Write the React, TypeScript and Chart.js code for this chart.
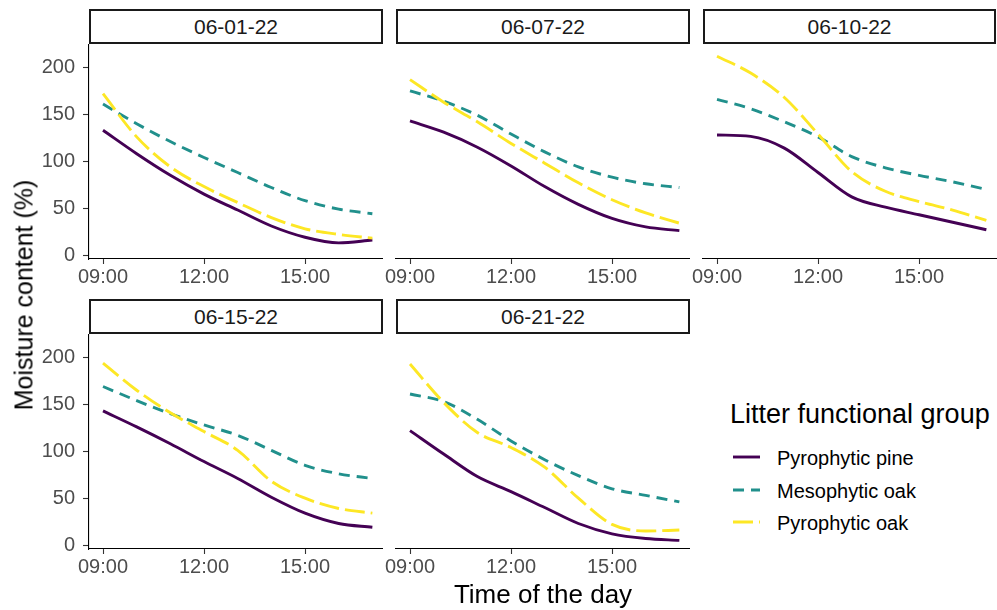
import React, { useEffect, useRef } from 'react';
import { Chart, registerables } from 'chart.js';

Chart.register(...registerables);

const FONT = "'Liberation Sans', Arial, Helvetica, sans-serif";

// ---------- data ----------
const facetLabels = ['06-01-22', '06-07-22', '06-10-22', '06-15-22', '06-21-22'];
const hours = [9, 10, 11, 12, 13, 14, 15, 16, 17];
const xTickValues = [9, 12, 15];
const xTickLabels = ['09:00', '12:00', '15:00'];
const yTickValues = [0, 50, 100, 150, 200];
const yTickLabels = ['0', '50', '100', '150', '200'];
const seriesNames = ['Pyrophytic pine', 'Mesophytic oak', 'Pyrophytic oak'];
const seriesColors = ['#440154', '#21908C', '#FDE725'];
const seriesDash: number[][] = [[], [11, 7], [20, 6]];

// one row per facet (same order as facetLabels)
const pyrophyticPine = [
  [133, 108, 85, 65, 48, 31, 19, 13, 16],
  [143, 131, 115, 95, 73, 54, 39, 30, 26],
  [128, 126.5, 114, 88, 62, 51, 43, 35, 27],
  [143, 126, 108, 89, 71, 51, 34, 23, 19],
  [122, 97, 73, 57, 40, 23, 12, 7, 5],
];
const mesophyticOak = [
  [161, 140, 121, 104, 88, 72, 58, 49, 44],
  [175, 164, 149, 129, 110, 94, 83, 76, 72],
  [166, 156, 142, 126, 105, 93, 85, 78, 70],
  [169, 154, 140, 128, 117, 101, 85, 76, 71],
  [161, 153, 134, 111, 91, 74, 60, 53, 46],
];
const pyrophyticOak = [
  [172, 126, 94, 73, 56, 40, 28, 22, 18],
  [187, 163, 142, 119, 98, 77, 59, 45, 34],
  [212, 194, 168, 129, 89, 68, 57, 48, 37],
  [194, 165, 141, 121, 101, 68, 50, 39, 34],
  [193, 152, 120, 104, 83, 50, 22, 15, 16],
];
const allSeries = [pyrophyticPine, mesophyticOak, pyrophyticOak];

// ---------- layout ----------
const X_MIN = 8.584;
const X_MAX = 17.316;
const Y_MIN = -4.2;
const Y_MAX = 225;
const PANEL_W = 294;
const PLOT_H = 215;
const STRIP_H = 35;
const X_AXIS_H = 45;
const Y_AXIS_W_LABEL = 70;
const Y_AXIS_W_PLAIN = 24;
const panelLefts = [89, 396, 703, 89, 396];
const panelTops = [44, 44, 44, 334, 334];

function Panel({ idx }: { idx: number }) {
  const ref = useRef<HTMLCanvasElement>(null);
  const showY = idx === 0 || idx === 3;
  const yW = showY ? Y_AXIS_W_LABEL : Y_AXIS_W_PLAIN;
  const w = PANEL_W + yW;
  const h = PLOT_H + X_AXIS_H;

  useEffect(() => {
    if (!ref.current) return;
    const datasets = allSeries.map((s, si) => ({
      label: seriesNames[si],
      data: s[idx].map((v, i) => ({ x: hours[i], y: v })),
      borderColor: seriesColors[si],
      backgroundColor: seriesColors[si],
      borderWidth: 2.9,
      borderDash: seriesDash[si],
      borderCapStyle: 'butt' as const,
      borderJoinStyle: 'round' as const,
      pointRadius: 0,
      fill: false,
      cubicInterpolationMode: 'monotone' as const,
      order: 3 - si,
    }));
    const chart = new Chart(ref.current, {
      type: 'line',
      data: { datasets },
      options: {
        animation: false,
        responsive: false,
        maintainAspectRatio: false,
        devicePixelRatio: 1,
        layout: { padding: 0 },
        events: [],
        plugins: {
          legend: { display: false },
          tooltip: { enabled: false },
          title: { display: false },
        },
        scales: {
          x: {
            type: 'linear',
            min: X_MIN,
            max: X_MAX,
            afterBuildTicks: (axis: any) => {
              axis.ticks = xTickValues.map((v) => ({ value: v }));
            },
            afterFit: (scale: any) => {
              scale.height = X_AXIS_H;
              scale.paddingLeft = 0;
              scale.paddingRight = 0;
            },
            grid: {
              display: true,
              drawOnChartArea: false,
              drawTicks: true,
              tickLength: 5,
              tickColor: '#333333',
              tickWidth: 1.1,
            },
            border: { display: true, color: '#000000', width: 1.1 },
            ticks: {
              color: '#4D4D4D',
              font: { family: FONT, size: 20 },
              padding: 1,
              maxRotation: 0,
              autoSkip: false,
              callback: (_v: any, i: number) => xTickLabels[i],
            },
          },
          y: {
            type: 'linear',
            min: Y_MIN,
            max: Y_MAX,
            afterBuildTicks: (axis: any) => {
              axis.ticks = yTickValues.map((v) => ({ value: v }));
            },
            afterFit: (scale: any) => {
              scale.width = yW;
              scale.paddingTop = 0;
              scale.paddingBottom = 0;
            },
            grid: {
              display: showY,
              drawOnChartArea: false,
              drawTicks: true,
              tickLength: 6,
              tickColor: '#333333',
              tickWidth: 1.1,
            },
            border: { display: showY, color: '#000000', width: 1.1 },
            ticks: {
              display: showY,
              color: '#4D4D4D',
              font: { family: FONT, size: 20 },
              padding: 8,
              autoSkip: false,
              callback: (_v: any, i: number) => yTickLabels[i],
            },
          },
        },
      },
    });
    return () => chart.destroy();
  }, [idx]);

  return (
    <canvas
      ref={ref}
      width={w}
      height={h}
      style={{
        position: 'absolute',
        left: panelLefts[idx] - yW,
        top: panelTops[idx],
        width: w,
        height: h,
      }}
    />
  );
}

function Strip({ idx }: { idx: number }) {
  const isLastCol = idx === 2;
  return (
    <div
      style={{
        position: 'absolute',
        left: panelLefts[idx],
        top: panelTops[idx] - STRIP_H,
        width: isLastCol ? PANEL_W - 1 : PANEL_W,
        height: STRIP_H,
        boxSizing: 'border-box',
        border: '2px solid #1A1A1A',
        background: '#ffffff',
        display: 'flex',
        alignItems: 'center',
        justifyContent: 'center',
        fontFamily: FONT,
        fontSize: 21,
        color: '#1A1A1A',
        lineHeight: 1,
      }}
    >
      {facetLabels[idx]}
    </div>
  );
}

function LegendKey({ si, top }: { si: number; top: number }) {
  return (
    <svg
      width={28}
      height={8}
      style={{ position: 'absolute', left: 733, top: top - 4 }}
    >
      <line
        x1={0}
        y1={4}
        x2={27}
        y2={4}
        stroke={seriesColors[si]}
        strokeWidth={2.9}
        strokeDasharray={seriesDash[si].length ? seriesDash[si].join(' ') : undefined}
      />
    </svg>
  );
}

export default function App() {
  const legendKeyY = [457, 489.5, 522];
  const legendTextTop = [448, 480.6, 513];
  return (
    <div
      style={{
        position: 'absolute',
        left: 0,
        top: 0,
        width: 997,
        height: 610,
        background: '#ffffff',
        overflow: 'hidden',
        fontFamily: FONT,
      }}
    >
      {facetLabels.map((_, i) => (
        <Panel key={'p' + i} idx={i} />
      ))}
      {facetLabels.map((_, i) => (
        <Strip key={'s' + i} idx={i} />
      ))}
      <div
        style={{
          position: 'absolute',
          left: 23.5,
          top: 295,
          transform: 'translate(-50%, -50%) rotate(-90deg)',
          whiteSpace: 'nowrap',
          fontSize: 25,
          lineHeight: 1,
          color: '#000',
        }}
      >
        Moisture content (%)
      </div>
      <div
        style={{
          position: 'absolute',
          left: 543,
          top: 580.5,
          transform: 'translateX(-50%)',
          whiteSpace: 'nowrap',
          fontSize: 26,
          lineHeight: 1,
          color: '#000',
        }}
      >
        Time of the day
      </div>
      <div
        style={{
          position: 'absolute',
          left: 730,
          top: 400.5,
          whiteSpace: 'nowrap',
          fontSize: 27,
          lineHeight: 1,
          color: '#000',
        }}
      >
        Litter functional group
      </div>
      {seriesNames.map((n, si) => (
        <React.Fragment key={'l' + si}>
          <LegendKey si={si} top={legendKeyY[si]} />
          <div
            style={{
              position: 'absolute',
              left: 777,
              top: legendTextTop[si],
              whiteSpace: 'nowrap',
              fontSize: 20,
              lineHeight: 1,
              color: '#000',
            }}
          >
            {n}
          </div>
        </React.Fragment>
      ))}
    </div>
  );
}
